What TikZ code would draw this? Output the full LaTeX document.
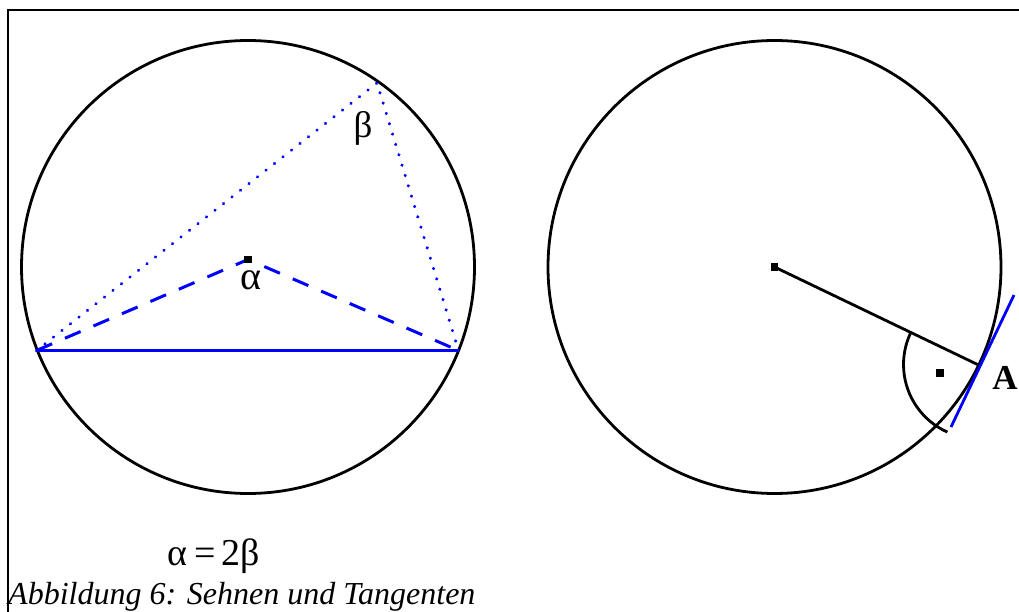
\documentclass[tikz,border=0pt]{standalone}
\usepackage{fontspec}
\setmainfont{Liberation Serif}
\begin{document}
\begin{tikzpicture}[x=1pt,y=-1pt,
  circ/.style={draw=black,line width=2.8pt},
  chord/.style={draw=blue,line width=2.8pt},
  dashline/.style={draw=blue,line width=3pt,dash pattern=on 17pt off 14pt},
  dotline/.style={draw=blue,line width=3.4pt,line cap=round,dash pattern=on 0.01pt off 10.8pt},
  ctr/.style={fill=black,inner sep=0pt,minimum size=7.5pt,rectangle},
  lbl/.style={inner sep=0pt,font=\fontsize{34}{34}\selectfont},
  frame/.style={draw=black,line width=1.4pt}]
\useasboundingbox (0,0) rectangle (1019,612);
\draw[frame] (8,612) -- (8,10) -- (1019,10);
% left circle
\coordinate (O1) at (248,267);
\coordinate (M1) at (248,259.5);
\coordinate (P) at (36.5,350.5);
\coordinate (Q) at (458.5,350.5);
\coordinate (R) at (377,83);
\draw[circ] (O1) circle[radius=226.5];
\draw[chord] (P) -- (Q);
\draw[dashline] (P) -- (M1) -- (Q);
\draw[dotline] (P) -- (R) -- (Q);
\node[ctr] (m1) at (M1) {};
\node[lbl,font=\fontsize{40}{40}\selectfont] (alpha) at (251,280) {α};
\node[lbl,font=\fontsize{37}{37}\selectfont] (beta) at (363,128) {β};
% right circle
\coordinate (O2) at (774.5,267);
\coordinate (A) at (977.5,364.5);
\coordinate (T1) at (951,427);
\coordinate (T2) at (1014,295);
\draw[circ] (O2) circle[radius=226.5];
\draw[black,line width=2.8pt] (O2) -- (A);
\draw[chord] (T1) -- (T2);
\draw[black,line width=2.8pt] ([shift={(205.7:74)}]A) arc[start angle=205.7, end angle=114, radius=74];
\node[ctr] (m2) at (O2) {};
\node[ctr] (dot) at (940,373) {};
\node[lbl,font=\fontsize{35}{35}\selectfont\bfseries] (Alabel) at (1005,378) {A};
% texts
\node[lbl,font=\fontsize{38}{38}\selectfont] (eq) at (214,556) {α\,=\,2β};
\node[lbl,anchor=base west,font=\fontsize{32}{32}\selectfont\itshape] (cap) at (8,604) {Abbildung 6: Sehnen und Tangenten};
\end{tikzpicture}
\end{document}
